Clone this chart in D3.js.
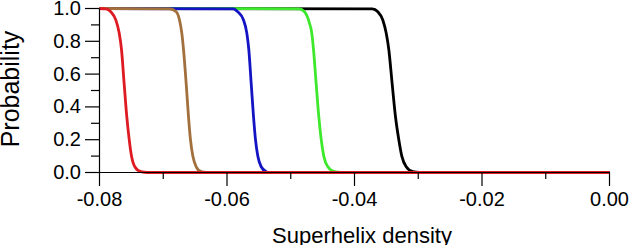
<!DOCTYPE html>
<html>
<head>
<meta charset="utf-8">
<script src="https://cdn.jsdelivr.net/npm/d3@7"></script>
<style>
  body { margin: 0; background: #fff; }
  svg { display: block; font-family: "Liberation Sans", Arial, Helvetica, sans-serif; }
</style>
</head>
<body>
<svg id="chart"></svg>
<script>
// superhelix density (x) vs probability (y), one array pair per curve
const redDensity   = [-0.0800, -0.0790, -0.07823, -0.07744, -0.07691, -0.07655, -0.07613, -0.07572, -0.07534, -0.07498, -0.07446, -0.07352, -0.07247, 0];
const brownDensity = [-0.0800, -0.0690, -0.06797, -0.06745, -0.06709, -0.06682, -0.06640, -0.06604, -0.06573, -0.06536, -0.06483, -0.06405, -0.06326, 0];
const blueDensity  = [-0.0800, -0.0590, -0.05831, -0.05741, -0.05689, -0.05658, -0.05620, -0.05584, -0.05553, -0.05517, -0.05464, -0.05385, -0.05333, 0];
const greenDensity = [-0.0800, -0.0487, -0.04784, -0.04706, -0.04670, -0.04643, -0.04601, -0.04560, -0.04522, -0.04482, -0.04419, -0.04314, -0.04209, 0];
const blackDensity = [-0.0800, -0.0372, -0.03634, -0.03556, -0.03503, -0.03462, -0.03409, -0.03357, -0.03305, -0.03258, -0.03189, -0.03085, -0.02980, 0];

const redProb   = [1.0, 0.998, 0.98, 0.93, 0.85, 0.75, 0.54, 0.34, 0.20, 0.10, 0.035, 0.005, 0, 0];
const brownProb = [1.0, 0.998, 0.98, 0.93, 0.85, 0.75, 0.54, 0.34, 0.20, 0.10, 0.035, 0.005, 0, 0];
const blueProb  = [1.0, 0.998, 0.98, 0.93, 0.85, 0.75, 0.54, 0.34, 0.20, 0.10, 0.035, 0.005, 0, 0];
const greenProb = [1.0, 0.998, 0.98, 0.91, 0.85, 0.75, 0.54, 0.34, 0.20, 0.10, 0.035, 0.005, 0, 0];
const blackProb = [1.0, 0.998, 0.98, 0.93, 0.85, 0.75, 0.54, 0.34, 0.20, 0.10, 0.035, 0.005, 0, 0];

const xMajorTicks = [-0.08, -0.06, -0.04, -0.02, 0];
const xMinorTicks = [-0.07, -0.05, -0.03, -0.01];
const yMajorTicks = [0, 0.2, 0.4, 0.6, 0.8, 1.0];
const yMinorTicks = [0.1, 0.3, 0.5, 0.7, 0.9];

const xTitle = "Superhelix density";
const yTitle = "Probability";

// drawn in this order, red ends up on top
const series = [
    { name: "black", density: blackDensity, prob: blackProb },
    { name: "green", density: greenDensity, prob: greenProb },
    { name: "blue",  density: blueDensity,  prob: blueProb },
    { name: "brown", density: brownDensity, prob: brownProb },
    { name: "red",   density: redDensity,   prob: redProb }
];

const colors = { black: "#000000", green: "#3ee82c", blue: "#1414c4", brown: "#a2703c", red: "#de1a22" };

const W = 630, H = 245;
const svg = d3.select("#chart").attr("width", W).attr("height", H);

const x = d3.scaleLinear().domain([-0.08, 0]).range([99, 609]);
const y = d3.scaleLinear().domain([0, 1]).range([172, 8]);

const line = d3.line()
    .x(d => x(d[0]) + 0.5)
    .y(d => y(d[1]) + 0.5)
    .curve(d3.curveMonotoneX);

svg.append("g")
    .selectAll("path")
    .data(series)
    .enter()
    .append("path")
    .attr("d", s => line(d3.zip(s.density, s.prob)))
    .attr("fill", "none")
    .attr("stroke", s => colors[s.name])
    .attr("stroke-width", 2.8)
    .attr("stroke-linejoin", "round");

// x axis: major ticks with labels, then short minor ticks
const gx = svg.append("g")
    .attr("transform", `translate(0,${y(0)})`)
    .call(d3.axisBottom(x).tickValues(xMajorTicks).tickSize(14).tickSizeOuter(0).tickPadding(6)
        .tickFormat(d => d.toFixed(2)));
svg.append("g")
    .attr("transform", `translate(0,${y(0)})`)
    .call(d3.axisBottom(x).tickValues(xMinorTicks).tickSize(7).tickSizeOuter(0).tickFormat(""))
    .select(".domain").remove();

const gy = svg.append("g")
    .attr("transform", `translate(${x(-0.08)},0)`)
    .call(d3.axisLeft(y).tickValues(yMajorTicks).tickSize(14).tickSizeOuter(0).tickPadding(4)
        .tickFormat(d => d.toFixed(1)));
svg.append("g")
    .attr("transform", `translate(${x(-0.08)},0)`)
    .call(d3.axisLeft(y).tickValues(yMinorTicks).tickSize(8).tickSizeOuter(0).tickFormat(""))
    .select(".domain").remove();

svg.selectAll(".tick line").attr("stroke", "#000").attr("stroke-width", 1.2);
svg.selectAll(".domain").attr("stroke", "#000").attr("stroke-width", 1.2);
svg.selectAll(".tick text")
    .attr("fill", "#000")
    .style("font-size", "20px")
    .style("font-family", "'Liberation Sans', Arial, sans-serif");

svg.append("text")
    .attr("x", 362)
    .attr("y", 243)
    .attr("text-anchor", "middle")
    .style("font-size", "22px")
    .text(xTitle);

svg.append("text")
    .attr("transform", "translate(19,89) rotate(-90)")
    .attr("text-anchor", "middle")
    .style("font-size", "25px")
    .text(yTitle);
</script>
</body>
</html>
